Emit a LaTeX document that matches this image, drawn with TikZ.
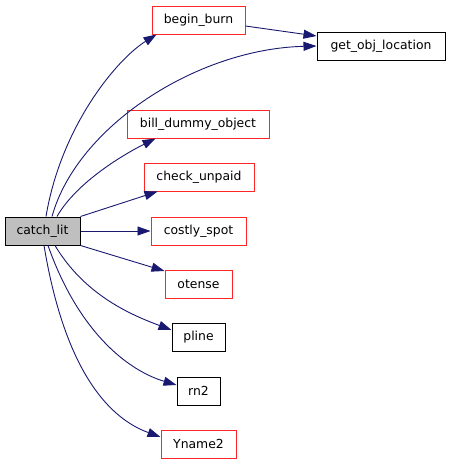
\documentclass[tikz,border=0pt]{standalone}
\usepackage{fontspec}
\setmainfont{DejaVu Sans}
\usetikzlibrary{arrows.meta}
\begin{document}
\begin{tikzpicture}[x=1pt,y=-1pt,
  box/.style={draw=#1,line width=1pt,minimum height=28pt,inner sep=0pt,font=\fontsize{12.4}{14}\selectfont,anchor=center},
  redbox/.style={box=red!85!white},
  blkbox/.style={box=black},
  e/.style={draw={rgb,255:red,25;green,25;blue,112},line width=0.9pt,
    -{Triangle[length=13pt,width=9pt,fill={rgb,255:red,25;green,25;blue,112}]}}]
\useasboundingbox (0,0) rectangle (451,464);
\node[blkbox,fill={rgb,255:red,191;green,191;blue,191},minimum width=75pt] (cl) at (42.5,231) {catch\_lit};
\node[redbox,minimum width=93pt] (bb) at (198.5,20) {begin\_burn};
\node[blkbox,minimum width=128pt] (go) at (381,46) {get\_obj\_location};
\node[redbox,minimum width=142pt] (bd) at (198,124) {bill\_dummy\_object};
\node[redbox,minimum width=110pt] (cu) at (199,177) {check\_unpaid};
\node[redbox,minimum width=95pt] (cs) at (198.5,231) {costly\_spot};
\node[redbox,minimum width=67pt] (ot) at (198.5,284) {otense};
\node[blkbox,minimum width=53pt] (pl) at (198.5,337) {pline};
\node[blkbox,minimum width=43pt] (rn) at (198.5,391) {rn2};
\node[redbox,minimum width=75pt] (yn) at (198.5,444) {Yname2};
\draw[e] ([xshift=3.5pt]cl.north) .. controls +(15,-90) and +(-40,25) .. ([xshift=5pt]bb.south west);
\draw[e] ([xshift=9.5pt]cl.north) .. controls +(25,-90) and +(-120,3) .. (go.west);
\draw[e] ([yshift=-6pt]bb.east) -- ([yshift=10pt]go.west);
\draw[e] ([xshift=14.5pt]cl.north) .. controls +(20,-35) and +(-30,15) .. ([xshift=29pt]bd.south west);
\draw[e] (cl.north east) -- ([xshift=14pt]cu.south west);
\draw[e] (cl.east) -- (cs.west);
\draw[e] (cl.south east) -- ([yshift=13pt]ot.west);
\draw[e] ([xshift=12.5pt]cl.south) .. controls +(30,50) and +(-40,-15) .. ([yshift=7pt]pl.west);
\draw[e] ([xshift=5.5pt]cl.south) .. controls +(30,85) and +(-50,-15) .. ([yshift=6pt]rn.west);
\draw[e] ([xshift=1.5pt]cl.south) .. controls +(20,120) and +(-55,-20) .. ([yshift=7pt]yn.west);
\end{tikzpicture}
\end{document}
